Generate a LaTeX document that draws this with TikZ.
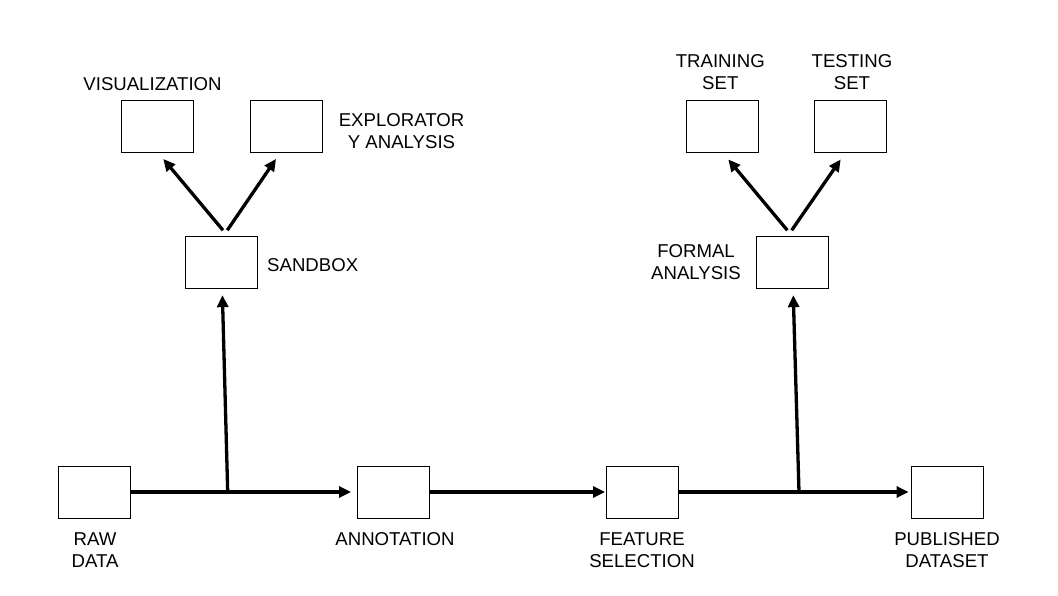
\documentclass[tikz,border=0pt]{standalone}
\usepackage{fontspec}
\setmainfont{Liberation Sans}
\usetikzlibrary{arrows.meta}

\begin{document}
\begin{tikzpicture}[x=1pt, y=1pt,
        box/.style={draw, line width=0.9pt, minimum width=72pt, minimum height=52pt, inner sep=0pt},
        lbl/.style={align=center, inner sep=0pt, font=\fontsize{18.6}{22}\selectfont},
        flow/.style={-{Triangle[length=12pt, width=11pt]}, line width=3.3pt}]

            % the frame
            \useasboundingbox (0, 0) rectangle (1058, 595);

            % the boxes
            \foreach \name/\x/\y in {raw/94.5/103, annotation/393.5/103, feature/642.5/103, published/947/103,
                    sandbox/221.5/333, formal/792.3/333,
                    visual/157.3/468.5, explore/286.3/468.5, training/722/468.7, testing/850.8/468.7} {
                \node[box] (\name) at (\x, \y) {};
            };

            % the labels
            \node[lbl] (rawtxt) at (95, 45) {RAW\\DATA};
            \node[lbl] (annotationtxt) at (395, 56) {ANNOTATION};
            \node[lbl] (featuretxt) at (642, 45) {FEATURE\\SELECTION};
            \node[lbl] (publishedtxt) at (947, 45) {PUBLISHED\\DATASET};
            \node[lbl, anchor=west] (sandboxtxt) at (267, 330) {SANDBOX};
            \node[lbl] (formaltxt) at (696, 333.3) {FORMAL\\ANALYSIS};
            \node[lbl] (visualtxt) at (152.5, 511) {VISUALIZATION};
            \node[lbl] (exploretxt) at (401.5, 463.5) {EXPLORATOR\\Y ANALYSIS};
            \node[lbl] (trainingtxt) at (720.3, 523.3) {TRAINING\\SET};
            \node[lbl] (testingtxt) at (852, 523.3) {TESTING\\SET};

            % the pipeline
            \coordinate (fork1) at (227.7, 103);
            \coordinate (fork2) at (799, 103);
            \draw[flow, shorten >=6pt] (raw) -- (annotation);
            \draw[flow, shorten >=1pt] (annotation) -- (feature);
            \draw[flow, shorten >=2pt] (feature) -- (published);
            \draw[flow, shorten >=6.7pt] (fork1) -- (sandbox);
            \draw[flow, shorten >=6.7pt] (fork2) -- (formal);

            % the branches
            \draw[flow] ([shift={(1.5, 5.3)}]sandbox.north) -- ([shift={(6, -6)}]visual.south);
            \draw[flow] ([shift={(5.8, 5.3)}]sandbox.north) -- ([shift={(-10.3, -6)}]explore.south);
            \draw[flow] ([shift={(-5, 5.3)}]formal.north) -- ([shift={(6.3, -6.7)}]training.south);
            \draw[flow] ([shift={(-0.6, 5.3)}]formal.north) -- ([shift={(-10.1, -6.7)}]testing.south);
        \end{tikzpicture}
\end{document}
